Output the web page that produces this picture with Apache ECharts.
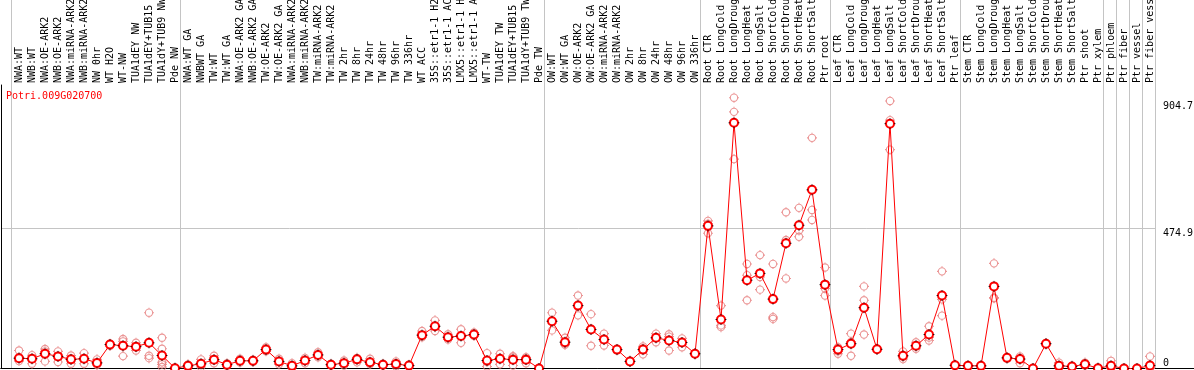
<!DOCTYPE html>
<html><head><meta charset="utf-8">
<script src="https://cdn.jsdelivr.net/npm/echarts@6/dist/echarts.min.js"></script>
<style>html,body{margin:0;padding:0;background:#fff}#c{width:1194px;height:370px}</style>
</head><body><div id="c"></div>
<script>
const geneId = 'Potri.009G020700';

const categories = [
  'NWA:WT','NWB:WT','NWA:OE-ARK2','NWB:OE-ARK2','NWA:miRNA-ARK2','NWB:miRNA-ARK2','NW 0hr','WT H2O','WT-NW',
  'TUA1dEY NW','TUA1dEY+TUB15 NW','TUA1dY+TUB9 NW','Pde NW',
  'NWA:WT GA','NWBWT GA','TW:WT','TW:WT GA','NWA:OE-ARK2 GA','NWB:OE-ARK2 GA','TW:OE-ARK2','TW:OE-ARK2 GA',
  'NWA:miRNA-ARK2','NWB:miRNA-ARK2','TW:miRNA-ARK2','TW:miRNA-ARK2','TW 2hr','TW 8hr','TW 24hr','TW 48hr',
  'TW 96hr','TW 336hr','WT ACC','35S::etr1-1 H2O','35S::etr1-1 ACC','LMX5::etr1-1 H2O','LMX5::etr1-1 ACC',
  'WT-TW','TUA1dEY TW','TUA1dEY+TUB15 TW','TUA1dY+TUB9 TW','Pde TW',
  'OW:WT','OW:WT GA','OW:OE-ARK2','OW:OE-ARK2 GA','OW:miRNA-ARK2','OW:miRNA-ARK2','OW 2hr','OW 8hr','OW 24hr',
  'OW 48hr','OW 96hr','OW 336hr',
  'Root CTR','Root LongCold','Root LongDrought','Root LongHeat','Root LongSalt','Root ShortCold','Root ShortDrought',
  'Root ShortHeat','Root ShortSalt','Ptr root',
  'Leaf CTR','Leaf LongCold','Leaf LongDrought','Leaf LongHeat','Leaf LongSalt','Leaf ShortCold','Leaf ShortDrought',
  'Leaf ShortHeat','Leaf ShortSalt','Ptr leaf',
  'Stem CTR','Stem LongCold','Stem LongDrought','Stem LongHeat','Stem LongSalt','Stem ShortCold','Stem ShortDrought',
  'Stem ShortHeat','Stem ShortSalt','Ptr shoot','Ptr xylem',
  'Ptr phloem','Ptr fiber','Ptr vessel','Ptr fiber vessel'
];

const means = [
  35,33,50,41,31,33,19,81,77,74,87,44,1,
  9,16,30,13,26,26,64,24,9,27,46,13,18,31,21,13,15,10,113,143,106,110,115,27,33,30,30,0,
  160,89,213,132,98,64,24,64,104,95,88,50,
  483,166,832,299,322,235,424,485,605,284,
  64,84,206,65,829,43,77,115,247,11,
  9,9,278,36,32,0,84,9,7,14,1,
  9,0,0,10
];

const replicates = [
  [61,38,25],[45,33,16],[66,58,24],[58,42,22],[44,30,16],[52,33,16],[31,15,12],[84,82,76],[100,92,42],
  [87,74,61],[189,43,35],[104,67,21,14,5],[2,1,0],
  [14,9,4],[31,14,5],[43,30,18],[18,12,8],[33,26,20],[30,25,22],[72,62,58],[33,24,14],
  [18,6,3],[36,27,18],[55,46,38],[16,12,10],[27,18,10],[36,31,21],[33,18,14],[16,12,10],
  [24,14,7],[13,9,7],[127,110,106],[163,140,127],[116,104,98],[133,110,87],[122,115,110],
  [52,22,7],[50,35,14],[42,38,10],[38,34,18],[0,0,0],
  [189,162,129],[104,84,80],[247,212,180],[184,135,77],[118,98,78],[66,62],[26,22],[75,68,48],
  [118,105,89],[116,108,61],[102,90,72],[52,48],
  [500,490,458],[213,146,140],[917,869,709],[354,316,231],[384,310,267],[354,174,168],[529,435,305],
  [544,467,446],[781,537,503],[342,271,247],
  [72,58,50],[118,90,43],[278,231,115],[66,64],[906,841,741],[58,40,32],[89,75,67],
  [143,105,95],[329,234,179],[12,10],
  [10,8],[10,8],[356,240,238],[38,34],[41,35,18],[0,0],[86,82],[20,5,3],[9,5],[20,12,10],[2,0],
  [26,2,0],[0],[0],[41,0,0]
];

const yTickValues = [0, 474.9, 904.7];
const gridLineValues = [474.9];
const groupLastIndex = [-1, 12, 40, 52, 62, 72, 83, 84, 85, 86, 87];

const MONO = 'DejaVu Sans Mono';
const repPoints = [];
replicates.forEach((arr, i) => arr.forEach(v => repPoints.push([i, v])));
const meanPoints = means.map((v, i) => [i, v]);

const ringTicks = 'path://M9.5,5.5 A4,4 0 1,1 1.5,5.5 A4,4 0 1,1 9.5,5.5 M5.5,0 L5.5,1.5 M5.5,9.5 L5.5,11 M0,5.5 L1.5,5.5 M9.5,5.5 L11,5.5';
const ticksOnly = 'path://M5.5,0 L5.5,1.5 M5.5,9.5 L5.5,11 M0,5.5 L1.5,5.5 M9.5,5.5 L11,5.5';

const step = 13, firstX = 19, gridLeft = 1, gridW = 1193;
const xMin = -(firstX - gridLeft) / step;
const xMax = xMin + gridW / step;

const chart = echarts.init(document.getElementById('c'), null, {renderer: 'canvas'});
chart.setOption({
  animation: false,
  backgroundColor: '#fff',
  title: {text: geneId, left: 6, top: 91, padding: 0,
    textStyle: {color: '#ff0000', fontSize: 10, fontWeight: 'normal', fontFamily: MONO}},
  grid: {left: gridLeft, right: 0, top: 85, bottom: 1.5, containLabel: false, outerBoundsMode: 'none'},
  xAxis: [
    {type: 'value', position: 'top', min: xMin, max: xMax,
     axisLine: {show: true, lineStyle: {color: '#000', width: 1}},
     axisTick: {show: false}, splitLine: {show: false},
     axisLabel: {customValues: categories.map((c, i) => i), rotate: 90, margin: 2,
       fontSize: 10, fontFamily: MONO, color: '#000',
       formatter: v => categories[Math.round(v)] || ''}},
    {type: 'value', position: 'bottom', min: xMin, max: xMax,
     axisLine: {show: true, onZero: false, lineStyle: {color: '#000', width: 1}},
     axisTick: {show: false}, splitLine: {show: false}, axisLabel: {show: false}}
  ],
  yAxis: [
    {type: 'value', position: 'left', min: 0, max: 960,
     axisLine: {show: true, onZero: false, lineStyle: {color: '#000', width: 1}},
     axisTick: {show: false}, splitLine: {show: false}, axisLabel: {show: false}},
    {type: 'value', position: 'right', min: 0, max: 960,
     axisLine: {show: false}, axisTick: {show: false}, splitLine: {show: false},
     axisLabel: {customValues: yTickValues, inside: true, margin: 31, align: 'left',
       fontSize: 10, lineHeight: 10, fontFamily: MONO, color: '#000',
       formatter: v => v === 0 ? '0\n ' : ' \n' + v}}
  ],
  series: [
    {type: 'scatter', name: 'replicates', xAxisIndex: 0, yAxisIndex: 0, data: repPoints,
     symbol: ringTicks, symbolSize: 10, silent: true, z: 3,
     itemStyle: {color: 'transparent', borderColor: '#e67c7c', borderWidth: 1.1}},
    {type: 'line', name: 'mean', xAxisIndex: 0, yAxisIndex: 0, data: meanPoints,
     symbol: 'emptyCircle', symbolSize: 8, showAllSymbol: true, silent: true, z: 4,
     lineStyle: {color: '#ff0000', width: 1},
     itemStyle: {color: '#ff0000', borderColor: '#ff0000', borderWidth: 1.4}},
    {type: 'scatter', name: 'meanTicks', xAxisIndex: 0, yAxisIndex: 0, data: meanPoints,
     symbol: ticksOnly, symbolSize: 11, silent: true, z: 5,
     itemStyle: {color: 'transparent', borderColor: '#000', borderWidth: 1}}
  ]
});

const sepOffset = 0.42;
const graphics = [];
const sepX = groupLastIndex.map(i => Math.round(chart.convertToPixel({xAxisIndex: 0}, i + sepOffset)) + 0.5);
sepX.forEach(x => graphics.push({type: 'line', shape: {x1: x, y1: 0, x2: x, y2: 369}, z: 0,
  style: {stroke: '#c4c4c4', lineWidth: 1}, silent: true}));
gridLineValues.forEach(v => {
  const y = Math.round(chart.convertToPixel({yAxisIndex: 0}, v)) + 0.5;
  graphics.push({type: 'line', shape: {x1: gridLeft, y1: y, x2: sepX[sepX.length - 1], y2: y}, z: 0,
    style: {stroke: '#c4c4c4', lineWidth: 1}, silent: true});
});
chart.setOption({graphic: graphics});
</script>
</body></html>
